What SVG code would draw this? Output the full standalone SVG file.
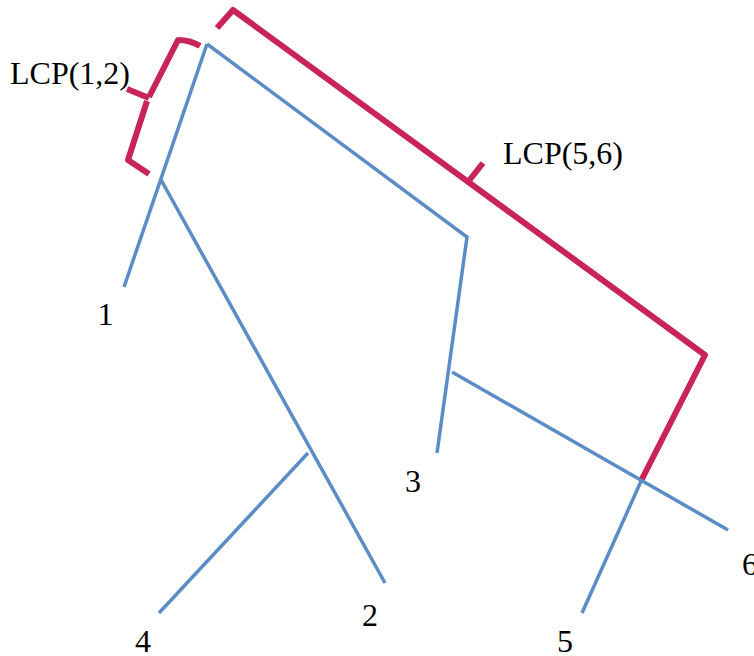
<svg xmlns="http://www.w3.org/2000/svg" width="754" height="656" viewBox="0 0 754 656">
<style>
.edge{fill:none;stroke:#5b8cc6;stroke-width:3.5;stroke-linecap:butt}
.brace{fill:none;stroke:#c9245a;stroke-width:6;stroke-linejoin:round;stroke-linecap:butt}
.lbl{font-family:"Liberation Serif","DejaVu Serif",serif;font-size:32px;fill:#000}
</style>
<rect width="754" height="656" fill="#fff"/>
<g id="connectors">
<path class="edge" d="M207,44 L124,287"/>
<path class="edge" d="M160,178 L385,583"/>
<path class="edge" d="M308,453 L159,613"/>
<path class="edge" d="M207,44 L467,237 L437,453"/>
<path class="edge" d="M452,372 L728,530"/>
<path class="edge" d="M642,479 L582,613"/>
</g>
<g id="lcp12">
<path class="brace" d="M200,46 Q190,40 178,40 L149,97 M127,89 L149,98 M147,101 L128,160 L149,174"/>
<text class="lbl" x="10" y="84">LCP(1,2)</text>
</g>
<g id="lcp56">
<path class="brace" d="M217,28 L233,10 L705,355 L642,479 M468,182 L483,163"/>
<text class="lbl" x="503" y="164">LCP(5,6)</text>
</g>
<g id="leaf1"><text class="lbl" x="105.5" y="325" text-anchor="middle">1</text></g>
<g id="leaf2"><text class="lbl" x="370" y="626" text-anchor="middle">2</text></g>
<g id="leaf3"><text class="lbl" x="413" y="492" text-anchor="middle">3</text></g>
<g id="leaf4"><text class="lbl" x="143" y="652" text-anchor="middle">4</text></g>
<g id="leaf5"><text class="lbl" x="565" y="652" text-anchor="middle">5</text></g>
<g id="leaf6"><text class="lbl" x="742" y="575">6</text></g>
</svg>
